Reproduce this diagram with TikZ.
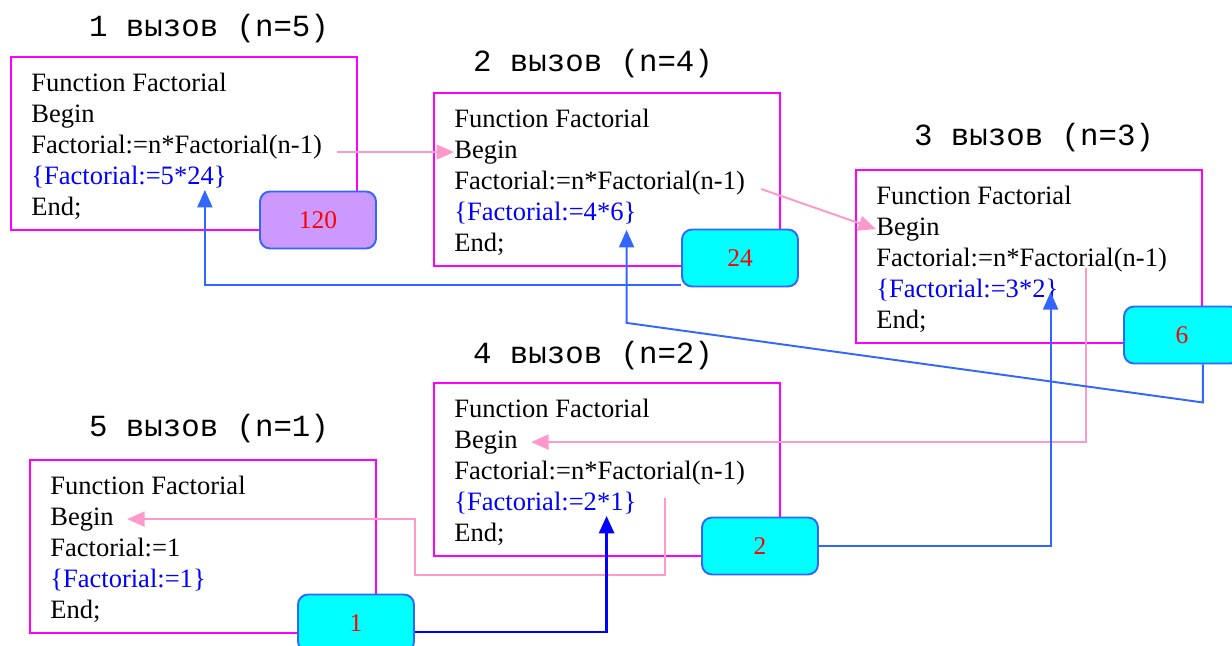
\documentclass[tikz,border=0pt]{standalone}
\usepackage{fontspec}
\setmainfont{Liberation Serif}
\setmonofont{Liberation Mono}
\usetikzlibrary{arrows.meta,calc}

\definecolor{framecol}{HTML}{FF00FF}
\definecolor{callcol}{HTML}{FF99CC}
\definecolor{retcol}{HTML}{3366FF}
\definecolor{deepblue}{HTML}{0000FF}
\definecolor{notecol}{HTML}{0000FF}
\definecolor{valcol}{HTML}{00FFFF}
\definecolor{topcol}{HTML}{CC99FF}

\newcommand\codefont{\fontsize{15.1}{18}\selectfont}
\newcommand\valfont{\fontsize{14.5}{17}\selectfont}
\newcommand\hdfont{\ttfamily\fontsize{17.5}{20}\selectfont}

\tikzset{
  codebox/.style={draw=framecol, line width=1.1pt, minimum width=6.92cm,
    minimum height=3.46cm, inner sep=0pt, anchor=north west},
  codeline/.style={anchor=base west, inner sep=0pt, font=\codefont},
  notetext/.style={codeline, text=notecol},
  valbox/.style={draw=retcol, fill=valcol, line width=1.1pt, rounded corners=0.2cm,
    minimum width=2.32cm, minimum height=1.14cm, text=red, font=\valfont},
  headlabel/.style={font=\hdfont},
  callarr/.style={->, draw=callcol, line width=1.1pt},
  retarr/.style={->, draw=retcol, line width=1.1pt},
}

% one activation record: name, left, top, third line, comment
\newcommand\callblock[5]{%
  \node[codebox] (#1) at (#2,#3) {};
  \node[codeline] (#1-fn) at (#2+21,#3+35) {Function Factorial};
  \node[codeline] (#1-begin) at (#2+21,#3+66) {Begin};
  \node[codeline] (#1-call) at (#2+21,#3+97) {#4};
  \node[notetext] (#1-note) at (#2+21,#3+128) {#5};
  \node[codeline] (#1-end) at (#2+21,#3+159) {End;};
}

\begin{document}
\begin{tikzpicture}[x=0.02cm, y=-0.02cm, >={Triangle[length=0.35cm,width=0.3cm]}]
    \clip (0,0) rectangle (1232,646);

    \callblock{b1}{10}{56}{Factorial:=n*Factorial(n-1)}{\{Factorial:=5*24\}}
    \callblock{b2}{433}{92}{Factorial:=n*Factorial(n-1)}{\{Factorial:=4*6\}}
    \callblock{b3}{855}{169}{Factorial:=n*Factorial(n-1)}{\{Factorial:=3*2\}}
    \callblock{b4}{433}{382}{Factorial:=n*Factorial(n-1)}{\{Factorial:=2*1\}}
    \callblock{b5}{29}{459}{Factorial:=1}{\{Factorial:=1\}}

    \node[headlabel] (h1) at (209,29) {1 вызов (n=5)};
    \node[headlabel] (h2) at (593,64) {2 вызов (n=4)};
    \node[headlabel] (h3) at (1034,138) {3 вызов (n=3)};
    \node[headlabel] (h4) at (593,356) {4 вызов (n=2)};
    \node[headlabel] (h5) at (209,429) {5 вызов (n=1)};

    \node[valbox, fill=topcol] (v120) at (318,220) {120};
    \node[valbox] (v24) at (740,258) {24};
    \node[valbox] (v6) at (1182,335) {6};
    \node[valbox] (v2) at (760,546) {2};
    \node[valbox] (v1) at (356,623) {1};

    % calls
    \draw[callarr] ($(b2-begin.west -| b1-call.east)+(15,0)$) -- (b2-begin.west);
    \draw[callarr] ($(b2-call.base east)+(16,0)$) -- (b3-begin.west);
    \draw[callarr] ($(b3-call.base west)+(210,2)$) |- ($(b4-begin.east)+(13,0)$);
    \draw[callarr] ($(b4-note.east)+(28,-5)$) |- (v2.south -| v1.east)
        |- ($(b5-begin.east)+(13,0)$);

    % returns
    \coordinate (t1) at ($(b1-note.south east)+(-22,2)$);
    \coordinate (t2) at ($(b2-note.south east)+(-10,6)$);
    \coordinate (t3) at ($(b3-note.base east)+(-8,-5)$);
    \coordinate (t4) at ($(b4-note.south east)+(-30,2)$);
    \draw[retarr] ($(v24.south west)+(0,-2)$) -| (t1);
    \draw[retarr] (v6.south -| b3.east) -- ++(0,38) -- ($(t2)+(0,93)$) -- (t2);
    \draw[retarr] (v2.east) -| (t3);
    \draw[retarr, draw=deepblue, line width=1.7pt] ($(v1.east)+(0,9)$) -| (t4);
\end{tikzpicture}
\end{document}
